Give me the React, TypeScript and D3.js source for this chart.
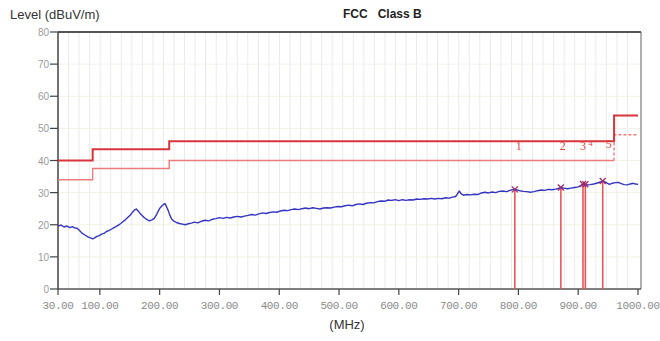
import * as d3 from 'd3';

// trace: frequency (MHz) and level (dBuV/m)
const traceFreq = [
    30, 35, 40, 45, 50, 54, 58, 62, 66, 70, 75, 80, 84, 88, 92, 95, 99, 103, 107, 111, 115, 119, 123, 127,
    131, 135, 139, 143, 147, 151, 155, 158, 161, 164, 167, 171, 175, 179, 183, 187, 191, 195, 198, 201,
    204, 207, 209, 211, 214, 217, 220, 224, 228, 233, 238, 243, 248, 253, 258, 264, 270, 276, 282, 288,
    294, 300, 306, 312, 318, 324, 330, 336, 342, 348, 354, 360, 366, 372, 378, 384, 390, 396, 402, 408,
    414, 420, 426, 432, 438, 444, 450, 456, 462, 468, 474, 480, 486, 492, 498, 504, 510, 516, 522, 528,
    534, 540, 546, 552, 558, 564, 570, 576, 582, 588, 594, 600, 606, 612, 618, 624, 630, 636, 642, 648,
    654, 660, 666, 672, 678, 684, 690, 695, 698, 701, 704, 708, 714, 720, 726, 732, 738, 744, 750, 756,
    762, 768, 774, 780, 786, 791, 796, 802, 808, 814, 820, 826, 832, 838, 844, 850, 856, 862, 867, 871,
    876, 882, 888, 894, 900, 904, 908, 912, 916, 920, 926, 932, 937, 942, 947, 952, 957, 962, 967, 972,
    977, 982, 987, 992, 996, 1000,
];
const traceLevel = [
    19.6, 19.9, 19.3, 19.6, 19.1, 19.4, 19.0, 18.9, 18.2, 17.4, 16.8, 16.2, 15.9, 15.6, 16.0, 16.4, 16.6, 17.1, 17.3, 17.9, 18.2, 18.6, 19.0, 19.4,
    19.9, 20.4, 21.0, 21.6, 22.3, 23.0, 24.0, 24.6, 24.9, 24.3, 23.6, 22.8, 22.1, 21.6, 21.2, 21.5, 22.0, 23.2, 24.4, 25.3,
    25.9, 26.4, 26.6, 25.8, 24.6, 23.0, 21.8, 21.1, 20.7, 20.4, 20.2, 20.0, 20.3, 20.5, 20.8, 20.6, 21.1, 21.4, 21.2, 21.7,
    21.9, 22.2, 22.0, 22.3, 22.1, 22.4, 22.6, 22.4, 22.7, 22.9, 23.2, 23.0, 23.4, 23.7, 23.5, 23.8, 24.0, 23.9, 24.3, 24.5,
    24.4, 24.7, 24.9, 24.7, 25.0, 25.2, 25.0, 25.3, 25.1, 24.9, 25.2, 25.3, 25.2, 25.5, 25.7, 25.6, 25.9, 26.1, 25.9, 26.3,
    26.5, 26.3, 26.7, 26.9, 26.8, 27.2, 27.4, 27.3, 27.7, 27.6, 27.8, 27.5, 27.8, 27.6, 27.8, 27.7, 28.0, 27.9, 28.1, 28.0,
    28.2, 28.0, 28.2, 28.1, 28.4, 28.3, 28.6, 28.8, 29.6, 30.5, 29.7, 29.2, 29.4, 29.3, 29.5, 29.4, 29.9, 30.1, 29.9, 30.2,
    30.0, 30.4, 30.5, 30.3, 30.7, 31.0, 30.9, 30.6, 30.4, 30.3, 30.1, 30.3, 30.6, 30.8, 30.7, 31.0, 30.9, 31.1, 31.3, 31.6,
    31.4, 31.2, 31.4, 31.6, 31.8, 32.2, 32.7, 32.6, 32.4, 32.5, 32.7, 33.0, 33.3, 33.6, 33.1, 32.6, 32.9, 33.1, 33.2, 32.8,
    32.5, 32.4, 32.7, 32.9, 32.7, 32.6,
];

// FCC class B limit and the margin line below it
const limitFreq = [30, 88, 88, 216, 216, 960, 960, 1000];
const limitLevel = [40, 40, 43.5, 43.5, 46, 46, 54, 54];
const marginFreq = [30, 88, 88, 216, 216, 960];
const marginLevel = [34, 34, 37.5, 37.5, 40, 40];
const marginTailFreq = [960, 960, 1000];
const marginTailLevel = [40, 48, 48];

// marked peaks
const markerNo = ['1', '2', '3', '4', '5'];
const markerFreq = [794, 871, 908, 912, 941];
const markerLevel = [31.0, 31.6, 32.7, 32.6, 33.6];

const xTicks = [30, 100, 200, 300, 400, 500, 600, 700, 800, 900, 1000];
const yTicks = [0, 10, 20, 30, 40, 50, 60, 70, 80];

const W = 660;
const H = 341;
const left = 58;
const right = 638;
const top = 32;
const bottom = 289;

export default function App() {
    const x = d3.scaleLinear().domain([30, 1000]).range([left, right]);
    const y = d3.scaleLinear().domain([0, 80]).range([bottom, top]);

    const line = d3.line<[number, number]>()
        .x(d => x(d[0]))
        .y(d => y(d[1]));

    const trace = traceFreq.map((f, i) => [f, traceLevel[i]] as [number, number]);
    const limit = limitFreq.map((f, i) => [f, limitLevel[i]] as [number, number]);
    const margin = marginFreq.map((f, i) => [f, marginLevel[i]] as [number, number]);
    const marginTail = marginTailFreq.map((f, i) => [f, marginTailLevel[i]] as [number, number]);

    // light vertical grid
    const gridX = d3.range(1, 55).map(i => 30 + i * 970 / 55);

    // small offsets so the crowded labels 3/4/5 sit like the original
    const labelDx = [4, 2, 0, 5, 6];
    const labelDy = [0, 0, 0, -4, -2];

    return (
        <div style={{ position: 'absolute', left: 0, top: 0 }}>
            <svg width={W} height={H} style={{ display: 'block', background: '#fff' }}>
                {gridX.map((g, i) => (
                    <line key={'gx' + i} x1={x(g)} x2={x(g)} y1={top} y2={bottom} stroke="#ebebeb" strokeWidth={1} />
                ))}
                {yTicks.slice(1, -1).map(t => (
                    <line key={'gy' + t} x1={left} x2={641} y1={y(t)} y2={y(t)} stroke="#f2f2e6" strokeWidth={1} />
                ))}

                {/* frame */}
                <line x1={641} x2={641} y1={top} y2={bottom} stroke="#b0b0b0" strokeWidth={2} />
                <line x1={left} x2={641} y1={top} y2={top} stroke="#555" strokeWidth={2} />
                <line x1={left} x2={641} y1={bottom} y2={bottom} stroke="#555" strokeWidth={1.5} />
                <line x1={left} x2={left} y1={top} y2={bottom} stroke="#444" strokeWidth={1.5} />

                {/* limit lines */}
                <path d={line(margin) || ''} fill="none" stroke="#ec7b7b" strokeWidth={1.4} />
                <path d={line(marginTail) || ''} fill="none" stroke="#ec7b7b" strokeWidth={1.4} strokeDasharray="3,2" />
                <path d={line(limit) || ''} fill="none" stroke="#d8343c" strokeWidth={2} />

                {/* marker drop lines */}
                {markerFreq.map((f, i) => (
                    <line key={'ml' + i} x1={x(f)} x2={x(f)} y1={y(markerLevel[i])} y2={bottom} stroke="#eb5558" strokeWidth={1.6} />
                ))}

                {/* trace */}
                <path d={line(trace) || ''} fill="none" stroke="#3434c4" strokeWidth={1.4} strokeLinejoin="round" />

                {/* markers */}
                {markerFreq.map((f, i) => {
                    const cx = x(f);
                    const cy = y(markerLevel[i]);
                    return (
                        <g key={'mk' + i} stroke="#a02a6a" strokeWidth={1.3}>
                            <line x1={cx - 3} x2={cx + 3} y1={cy - 3} y2={cy + 3} />
                            <line x1={cx - 3} x2={cx + 3} y1={cy + 3} y2={cy - 3} />
                        </g>
                    );
                })}
                {markerNo.map((m, i) => (
                    <text key={'mn' + i} x={x(markerFreq[i]) + labelDx[i]} y={150 + labelDy[i]}
                        fontFamily="Liberation Serif" fontSize={i === 3 ? 9 : 12} fill="#d84a4a" textAnchor="middle">{m}</text>
                ))}

                {/* y axis */}
                {yTicks.map(t => (
                    <g key={'yt' + t}>
                        <line x1={left - 8} x2={left} y1={y(t)} y2={y(t)} stroke="#444" strokeWidth={1.2} />
                        <text x={left - 9} y={y(t) + 4} textAnchor="end" fontFamily="Liberation Sans" fontSize={10} fill="#9a9a9a">{t}</text>
                    </g>
                ))}

                {/* x axis */}
                {xTicks.map(t => (
                    <g key={'xt' + t}>
                        <line x1={x(t)} x2={x(t)} y1={bottom} y2={bottom + 6} stroke="#444" strokeWidth={1.2} />
                        <text x={x(t)} y={309} textAnchor="middle" fontFamily="Liberation Mono" fontSize={11}
                            letterSpacing={-0.4} fill="#8a8a8a">{t.toFixed(2)}</text>
                    </g>
                ))}

                <text x={10} y={19} fontFamily="Liberation Sans" fontSize={13} fill="#333">Level (dBuV/m)</text>
                <text x={343} y={18} fontFamily="Liberation Sans" fontSize={12} fontWeight="bold" fill="#222" xmlSpace="preserve">FCC   Class B</text>
                <text x={347} y={329} textAnchor="middle" fontFamily="Liberation Sans" fontSize={13} fill="#333">(MHz)</text>
            </svg>
        </div>
    );
}
